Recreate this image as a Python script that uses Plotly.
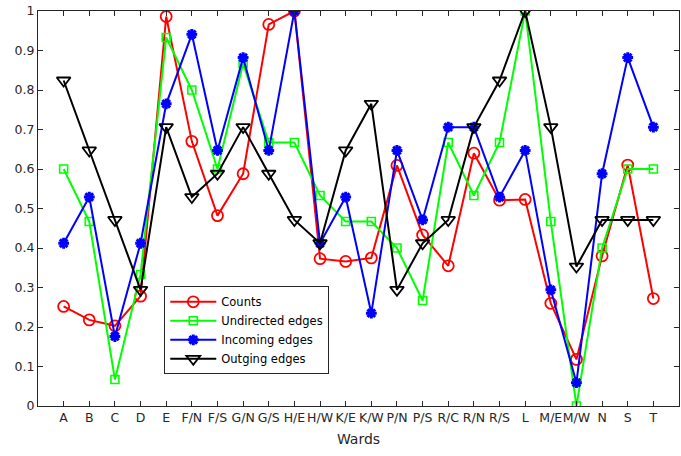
import plotly.graph_objects as go

wards = ["A", "B", "C", "D", "E", "F/N", "F/S", "G/N", "G/S", "H/E", "H/W", "K/E",
         "K/W", "P/N", "P/S", "R/C", "R/N", "R/S", "L", "M/E", "M/W", "N", "S", "T"]

counts = [0.252, 0.218, 0.203, 0.278, 0.986, 0.670, 0.482, 0.588, 0.966, 1.000, 0.373, 0.366,
          0.375, 0.609, 0.433, 0.355, 0.640, 0.521, 0.523, 0.260, 0.118, 0.380, 0.610, 0.272]
undirected = [0.600, 0.467, 0.067, 0.333, 0.933, 0.800, 0.600, 0.867, 0.667, 0.667, 0.533, 0.467,
              0.467, 0.400, 0.267, 0.667, 0.533, 0.667, 1.000, 0.467, 0.000, 0.400, 0.600, 0.600]
incoming = [0.412, 0.529, 0.176, 0.412, 0.765, 0.941, 0.647, 0.882, 0.647, 1.000, 0.412, 0.529,
            0.235, 0.647, 0.471, 0.706, 0.706, 0.529, 0.647, 0.294, 0.059, 0.588, 0.882, 0.706]
outgoing = [0.824, 0.647, 0.471, 0.294, 0.706, 0.529, 0.588, 0.706, 0.588, 0.471, 0.412, 0.647,
            0.765, 0.294, 0.412, 0.471, 0.706, 0.824, 1.000, 0.706, 0.353, 0.471, 0.471, 0.471]

xs = list(range(1, len(wards) + 1))
FONT = "DejaVu Sans, Liberation Sans, Arial, sans-serif"
AX = "#262626"

fig = go.Figure()
fig.add_trace(go.Scatter(x=xs, y=counts, name="Counts", mode="lines+markers",
                         line=dict(color="#ff0000", width=2),
                         marker=dict(symbol="circle-open", size=11, color="#ff0000",
                                     line=dict(width=1.8, color="#ff0000"))))
fig.add_trace(go.Scatter(x=xs, y=undirected, name="Undirected edges", mode="lines+markers",
                         line=dict(color="#00ff00", width=2),
                         marker=dict(symbol="square-open", size=8, color="#00ff00",
                                     line=dict(width=1.6, color="#00ff00"))))
fig.add_trace(go.Scatter(x=xs, y=incoming, name="Incoming edges", mode="lines+markers",
                         line=dict(color="#0000ff", width=2),
                         marker=dict(symbol="asterisk-open", size=9, color="#0000ff",
                                     line=dict(width=3, color="#0000ff"))))
fig.add_trace(go.Scatter(x=xs, y=outgoing, name="Outging edges", mode="lines+markers",
                         line=dict(color="#000000", width=2),
                         marker=dict(symbol="triangle-down-open", size=12, color="#000000",
                                     line=dict(width=1.8, color="#000000"))))

fig.update_layout(
    width=681, height=456,
    margin=dict(l=38, r=2, t=11, b=50, autoexpand=False),
    paper_bgcolor="white", plot_bgcolor="white",
    font=dict(family=FONT, size=12, color=AX),
    showlegend=True,
    legend=dict(x=0.197, y=0.303, xanchor="left", yanchor="top",
                bgcolor="white", bordercolor=AX, borderwidth=1,
                font=dict(family=FONT, size=11.5, color="#000000"),
                tracegroupgap=0, itemwidth=46),
    xaxis=dict(range=[0, 25], tickmode="array", tickvals=xs, ticktext=wards,
               tickangle=0, automargin=False,
               showgrid=False, zeroline=False, showline=True, linecolor=AX, linewidth=1,
               mirror="ticks", ticks="inside", ticklen=5, tickcolor=AX,
               tickfont=dict(size=12.5, color=AX),
               title=dict(text="Wards", font=dict(size=14, color=AX), standoff=10)),
    yaxis=dict(range=[0, 1], tickmode="array", automargin=False,
               tickvals=[0, 0.1, 0.2, 0.3, 0.4, 0.5, 0.6, 0.7, 0.8, 0.9, 1],
               ticktext=["0", "0.1", "0.2", "0.3", "0.4", "0.5", "0.6", "0.7", "0.8", "0.9", "1"],
               showgrid=False, zeroline=False, showline=True, linecolor=AX, linewidth=1,
               mirror="ticks", ticks="inside", ticklen=5, tickcolor=AX,
               tickfont=dict(size=12.5, color=AX)),
)

fig.write_html("out.html")
